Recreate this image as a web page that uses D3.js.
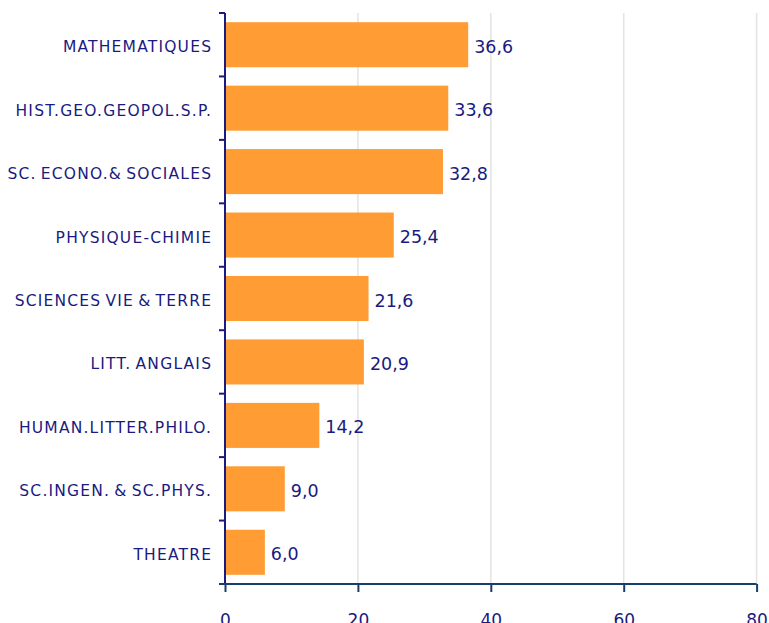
<!DOCTYPE html>
<html>
<head>
<meta charset="utf-8">
<script src="https://cdn.jsdelivr.net/npm/d3@7"></script>
<style>
  body { margin: 0; background: #fff; }
  text { font-family: "DejaVu Sans", Verdana, sans-serif; }
</style>
</head>
<body>
<div id="chart"></div>
<script>
var width = 769;
var height = 623;

// subjects, top to bottom
const subjects = ["MATHEMATIQUES", "HIST.GEO.GEOPOL.S.P.", "SC. ECONO.& SOCIALES", "PHYSIQUE-CHIMIE",
    "SCIENCES VIE & TERRE", "LITT. ANGLAIS", "HUMAN.LITTER.PHILO.", "SC.INGEN. & SC.PHYS.", "THEATRE"];
const values = [36.6, 33.6, 32.8, 25.4, 21.6, 20.9, 14.2, 9.0, 6.0];
const xTicks = [0, 20, 40, 60, 80];

var navy = "#1a1a80";
var margin = { top: 13, left: 225, right: 12, bottom: 39 };

var svg = d3.select("#chart").append("svg")
    .attr("width", width)
    .attr("height", height);

var x = d3.scaleLinear()
    .domain([0, 80])
    .range([margin.left, 756.6]);

var y = d3.scaleBand()
    .domain(subjects)
    .range([margin.top, height - margin.bottom])
    .paddingInner(0.29)
    .paddingOuter(0.145);

// vertical gridlines
svg.selectAll(".grid")
    .data(xTicks.slice(1))
    .enter().append("line")
    .attr("x1", d => x(d)).attr("x2", d => x(d))
    .attr("y1", margin.top).attr("y2", height - margin.bottom)
    .attr("stroke", "#e3e3e3")
    .attr("stroke-width", 1.5);

// bars
svg.selectAll(".bar")
    .data(values)
    .enter().append("rect")
    .attr("x", x(0))
    .attr("y", (d, i) => y(subjects[i]))
    .attr("width", d => x(d) - x(0))
    .attr("height", y.bandwidth())
    .attr("fill", "#ff9c33");

// value labels
svg.selectAll(".val")
    .data(values)
    .enter().append("text")
    .attr("x", d => x(d) + 6)
    .attr("y", (d, i) => y(subjects[i]) + y.bandwidth() / 2 + 8)
    .attr("fill", navy)
    .style("font-size", "17.5px")
    .text(d => d.toFixed(1).replace(".", ","));

// category labels
svg.selectAll(".cat")
    .data(subjects)
    .enter().append("text")
    .attr("x", 212.2)
    .attr("y", d => y(d) + y.bandwidth() / 2 + 7.5)
    .attr("text-anchor", "end")
    .attr("fill", navy)
    .style("font-size", "15.5px")
    .style("letter-spacing", "1.2px")
    .style("word-spacing", "-2px")
    .text(d => d);

// left axis with ticks between bands
var bottomY = height - margin.bottom;
svg.append("line")
    .attr("x1", x(0)).attr("x2", x(0))
    .attr("y1", margin.top).attr("y2", bottomY)
    .attr("stroke", navy).attr("stroke-width", 2);

var bounds = d3.range(subjects.length + 1).map(i => margin.top + i * (bottomY - margin.top) / subjects.length);
svg.selectAll(".ytick")
    .data(bounds)
    .enter().append("line")
    .attr("x1", x(0) - 6).attr("x2", x(0))
    .attr("y1", d => d).attr("y2", d => d)
    .attr("stroke", navy).attr("stroke-width", 2);

// bottom axis
var xAxis = svg.append("g")
    .attr("transform", "translate(0," + bottomY + ")")
    .call(d3.axisBottom(x).tickValues(xTicks).tickSize(8).tickSizeOuter(0).tickPadding(22));
xAxis.select(".domain").attr("stroke", "#173f6b").attr("stroke-width", 2)
    .attr("d", "M" + (x(0) - 6) + ",0H" + x(80));
xAxis.selectAll(".tick line").attr("stroke", "#173f6b").attr("stroke-width", 2);
xAxis.selectAll(".tick text")
    .attr("fill", navy)
    .style("font-size", "17px")
    .style("font-family", "'DejaVu Sans', Verdana, sans-serif");
</script>
</body>
</html>
